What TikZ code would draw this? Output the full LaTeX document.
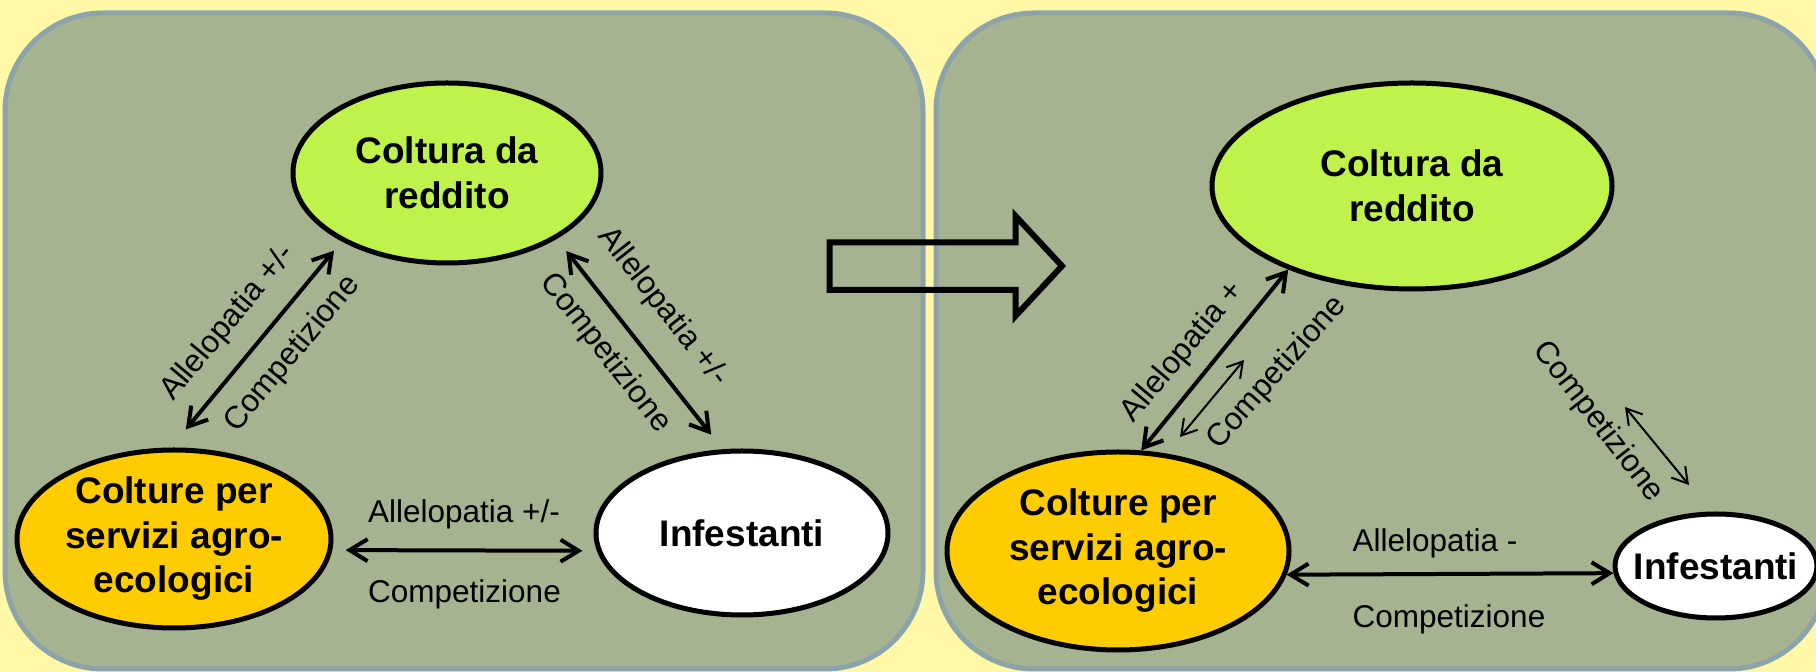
\documentclass[tikz,border=0pt]{standalone}
\usepackage{fontspec}
\setmainfont{Liberation Sans}
\usetikzlibrary{arrows.meta,shapes.geometric}
\definecolor{bgyellow}{RGB}{255,248,166}
\definecolor{panelfill}{RGB}{165,179,144}
\definecolor{paneledge}{RGB}{140,163,170}
\definecolor{limegreen}{RGB}{191,242,74}
\definecolor{goldfill}{RGB}{255,204,0}
\begin{document}
\begin{tikzpicture}[x=0.5pt,y=-0.5pt,
  panel/.style={draw=paneledge, line width=2.5pt, fill=panelfill, rounded corners=49pt},
  blob/.style={ellipse, draw=black, line width=2.5pt, inner sep=0pt,
    font=\fontsize{18.5pt}{22.25pt}\selectfont\bfseries, align=center},
  lbl/.style={font=\fontsize{15.75pt}{18pt}\selectfont, inner sep=0pt},
  bigarrow/.style={line width=2pt, {Straight Barb[length=9pt,width=11pt]}-{Straight Barb[length=9pt,width=11pt]}},
  thinarrow/.style={line width=1pt, {Straight Barb[length=7.5pt,width=9pt]}-{Straight Barb[length=7.5pt,width=9pt]}},
]
\useasboundingbox (0,0) rectangle (1816,672);
\fill[bgyellow] (0,0) rectangle (1816,672);
% panels
\draw[panel] (5,13) rectangle (923,669);
\draw[panel] (936,13) rectangle (1827,669);
% transition arrow
\draw[line width=3pt] (829.5,242.5) -- (1015.5,242.5) -- (1015.5,216) -- (1062,266)
  -- (1015.5,316) -- (1015.5,290) -- (829.5,290) -- cycle;
% left panel nodes
\node[blob, fill=limegreen, minimum width=154pt, minimum height=90pt] (lcr) at (447,173) {Coltura da\\reddito};
\node[blob, fill=goldfill, minimum width=157pt, minimum height=89pt] (lcs) at (174,539) {Colture per\\servizi agro-\\ecologici};
\node[blob, fill=white, minimum width=146pt, minimum height=82pt] (lin) at (742,533) {Infestanti};
% right panel nodes
\node[blob, fill=limegreen, minimum width=200pt, minimum height=103pt] (rcr) at (1412,186) {Coltura da\\reddito};
\node[blob, fill=goldfill, minimum width=171pt, minimum height=99pt] (rcs) at (1118,551) {Colture per\\servizi agro-\\ecologici};
\node[blob, fill=white, minimum width=101pt, minimum height=52pt,
  label={[font=\fontsize{18.5pt}{22.25pt}\selectfont\bfseries]center:Infestanti}] (rin) at (1716,566) {};
% left panel connectors
\draw[bigarrow, shorten <=11.75pt, shorten >=6pt] (lcs.92.5) -- (lcr.213);
\draw[bigarrow, shorten <=7.7pt, shorten >=9.25pt] (lcr.329.6) -- (lin.103.2);
\draw[bigarrow, shorten <=6.7pt, shorten >=7.2pt] (lcs.-4.4) -- (lin.187.1);
% right panel connectors
\draw[bigarrow] (rcs.77) -- (rcr.214.5);
\draw[bigarrow] (rcs.-8) -- (rin.184.4);
\coordinate (b2s) at (1180,437);
\coordinate (b2e) at (1244,360);
\draw[thinarrow] (b2s) -- (b2e);
\coordinate (b3s) at (1625,407);
\coordinate (b3e) at (1689,485);
\draw[thinarrow] (b3s) -- (b3e);
% left panel labels
\node[lbl, rotate=50.3] (l1) at (228,323) {Allelopatia +/-};
\node[lbl, rotate=50.3] (l2) at (292.5,354) {Competizione};
\node[lbl, rotate=-52] (l3) at (663,307) {Allelopatia +/-};
\node[lbl, rotate=-52] (l4) at (605,353) {Competizione};
\node[lbl] (l5) at (464,514) {Allelopatia +/-};
\node[lbl] (l6) at (464.5,594) {Competizione};
% right panel labels
\node[lbl, rotate=50.1] (r1) at (1183,352) {Allelopatia +};
\node[lbl, rotate=48.5] (r2) at (1277,373) {Competizione};
\node[lbl, rotate=-52.3] (r3) at (1598,422) {Competizione};
\node[lbl] (r4) at (1435,543) {Allelopatia -};
\node[lbl] (r5) at (1449,619) {Competizione};
\end{tikzpicture}
\end{document}
